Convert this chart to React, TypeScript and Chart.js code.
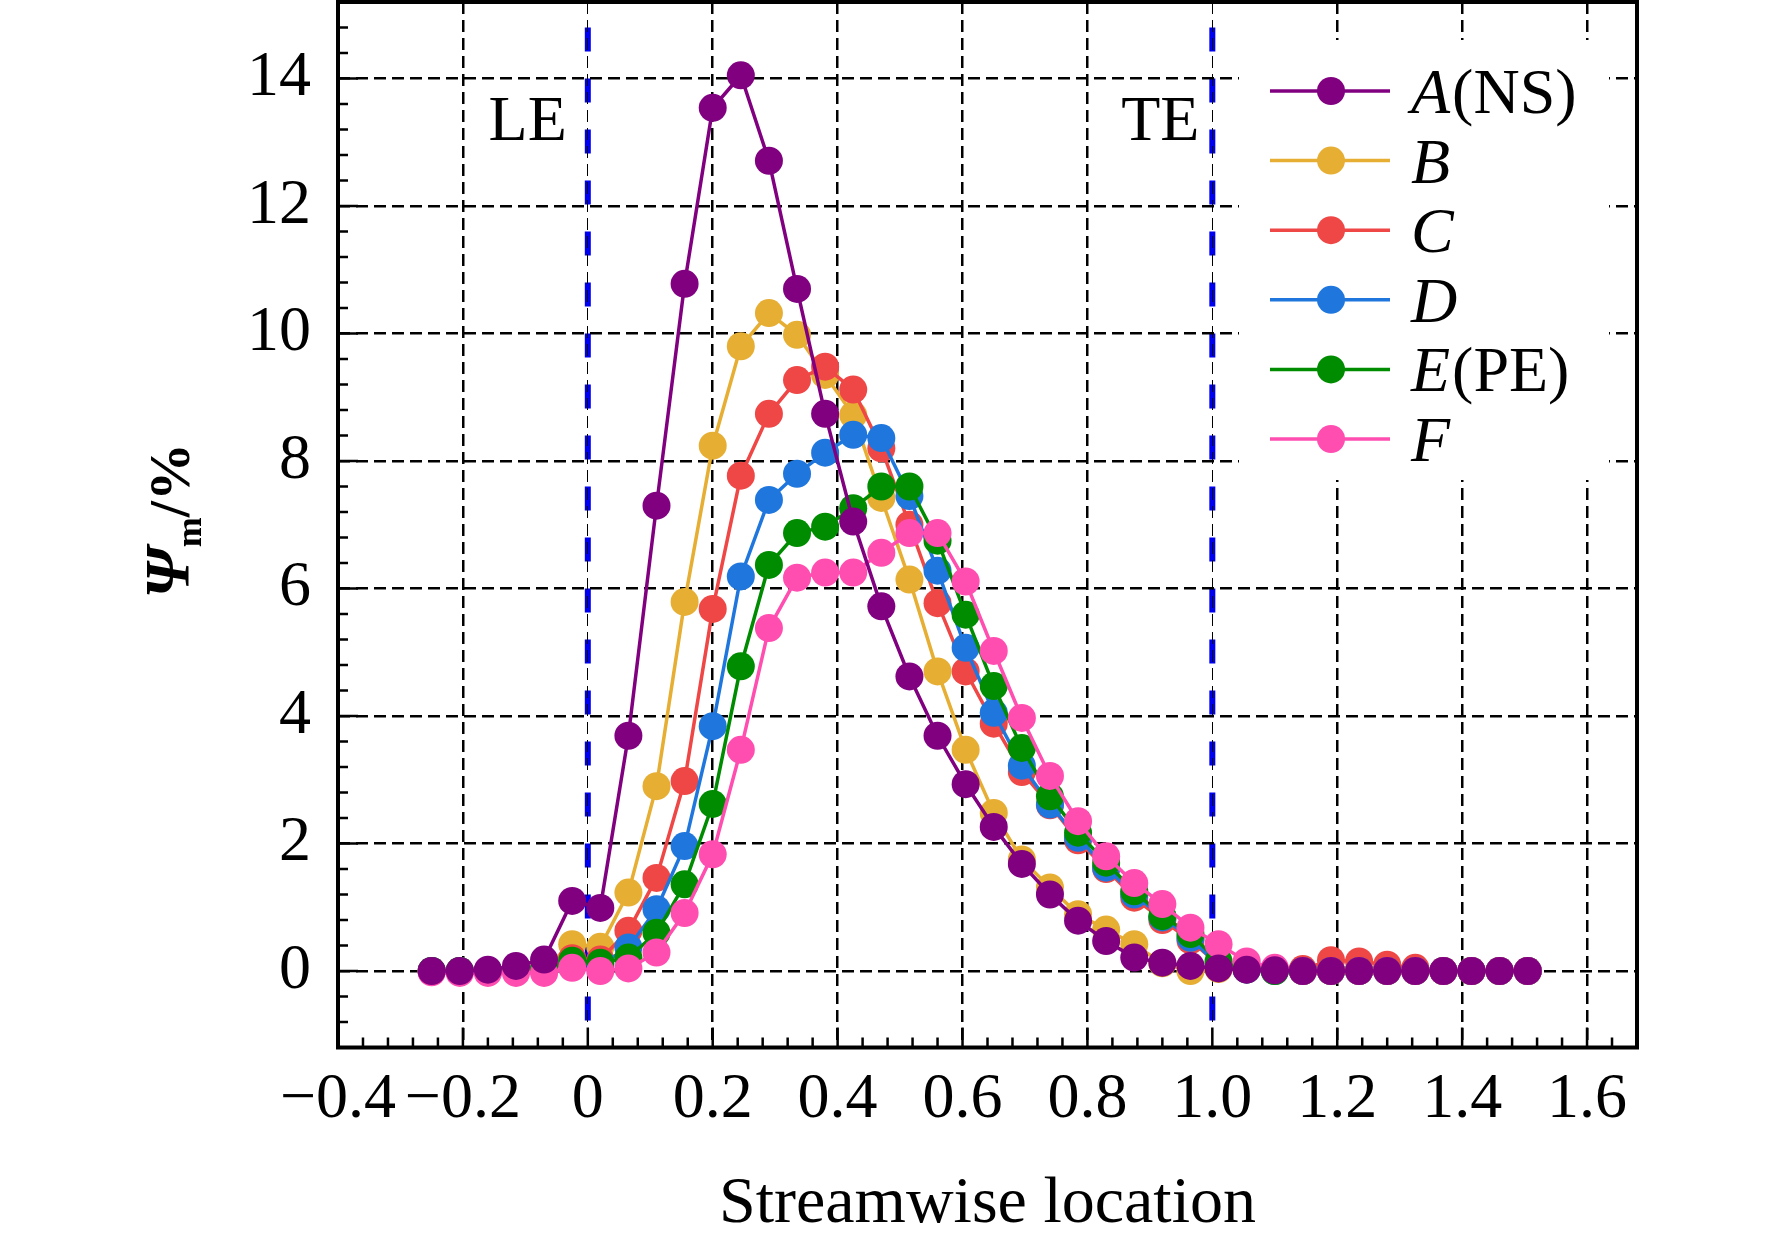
import { useEffect, useRef } from "react";
import { Chart, registerables } from "chart.js";
import type { Plugin } from "chart.js";

Chart.register(...registerables);

// streamwise stations shared by all cases
const streamwise = [
  -0.25, -0.205, -0.16, -0.115, -0.07, -0.025, 0.02, 0.065, 0.11, 0.155,
  0.2, 0.245, 0.29, 0.335, 0.38, 0.425, 0.47, 0.515, 0.56, 0.605,
  0.65, 0.695, 0.74, 0.785, 0.83, 0.875, 0.92, 0.965, 1.01, 1.055,
  1.1, 1.145, 1.19, 1.235, 1.28, 1.325, 1.37, 1.415, 1.46, 1.505,
];

const caseA = [
  0, 0, 0.02, 0.08, 0.18, 1.1, 0.99, 3.69, 7.3, 10.78,
  13.54, 14.05, 12.71, 10.7, 8.74, 7.05, 5.72, 4.62, 3.69, 2.93,
  2.26, 1.68, 1.2, 0.79, 0.47, 0.21, 0.13, 0.08, 0.04, 0.02,
  0.01, 0, 0, 0, 0, 0, 0, 0, 0, 0,
];
const caseB = [
  0, 0, 0, 0.02, 0.05, 0.42, 0.38, 1.23, 2.9, 5.79,
  8.24, 9.8, 10.32, 9.98, 9.35, 8.72, 7.42, 6.14, 4.7, 3.47,
  2.48, 1.75, 1.31, 0.89, 0.65, 0.42, 0.12, 0, 0.03, 0.02,
  0, 0, 0, 0, 0, 0, 0, 0, 0, 0,
];
const caseC = [
  0, 0, 0, 0.02, 0.05, 0.2, 0.18, 0.63, 1.46, 2.98,
  5.68, 7.77, 8.74, 9.27, 9.48, 9.12, 8.2, 7.0, 5.77, 4.7,
  3.88, 3.12, 2.6, 2.05, 1.6, 1.15, 0.8, 0.48, 0.1, 0.04,
  0.02, 0.03, 0.17, 0.15, 0.1, 0.05, 0, 0, 0, 0,
];
const caseD = [
  0, 0, 0, 0.02, 0.03, 0.12, 0.1, 0.37, 0.97, 1.96,
  3.84, 6.19, 7.39, 7.8, 8.13, 8.41, 8.36, 7.45, 6.28, 5.07,
  4.05, 3.22, 2.61, 2.09, 1.62, 1.2, 0.84, 0.52, 0.08, 0.02,
  0, 0, 0, 0, 0, 0, 0, 0, 0, 0,
];
const caseE = [
  0, 0, 0, 0.02, 0.03, 0.16, 0.13, 0.21, 0.6, 1.36,
  2.62, 4.78, 6.37, 6.87, 6.97, 7.26, 7.6, 7.6, 6.75, 5.59,
  4.47, 3.5, 2.74, 2.17, 1.7, 1.25, 0.86, 0.58, 0.15, 0.03,
  0, 0, 0, 0, 0, 0, 0, 0, 0, 0,
];
const caseF = [
  -0.02, -0.03, -0.03, -0.03, -0.03, 0.05, 0, 0.04, 0.29, 0.91,
  1.83, 3.47, 5.38, 6.17, 6.25, 6.25, 6.56, 6.87, 6.87, 6.11,
  5.02, 3.97, 3.06, 2.35, 1.8, 1.38, 1.05, 0.68, 0.42, 0.15,
  0.05, 0, 0, 0, 0, 0, 0, 0, 0, 0,
];

const caseValues = [caseA, caseB, caseC, caseD, caseE, caseF];
const caseLetters = ["A", "B", "C", "D", "E", "F"];
const caseSuffixes = ["(NS)", "", "", "", "(PE)", ""];
const caseColors = ["#800080", "#E6AE33", "#EF4646", "#1F77DE", "#008C00", "#FF4DB0"];
// lower order is painted on top
const caseOrder = [0, 5, 4, 3, 2, 1];

const xTickValues = [-0.4, -0.2, 0, 0.2, 0.4, 0.6, 0.8, 1.0, 1.2, 1.4, 1.6];
const xTickLabels = ["−0.4", "−0.2", "0", "0.2", "0.4", "0.6", "0.8", "1.0", "1.2", "1.4", "1.6"];
const yTickValues = [0, 2, 4, 6, 8, 10, 12, 14];

const edgeStations = [0, 1.0];
const edgeNames = ["LE", "TE"];

const SERIF = "'Liberation Serif', 'Times New Roman', serif";

const decorPlugin: Plugin<"line"> = {
  id: "decor",
  beforeDraw(chart) {
    // blue LE / TE markers sit under the grid
    const { ctx, chartArea, scales } = chart;
    ctx.save();
    ctx.strokeStyle = "#0000F0";
    ctx.lineWidth = 6;
    ctx.setLineDash([24, 27]);
    edgeStations.forEach((v) => {
      const px = scales.x.getPixelForValue(v);
      ctx.beginPath();
      ctx.moveTo(px, scales.y.getPixelForValue(14.8));
      ctx.lineTo(px, chartArea.bottom);
      ctx.stroke();
    });
    ctx.restore();
  },
  afterDraw(chart) {
    const { ctx, chartArea: a, scales } = chart;
    const xs = scales.x;
    const ys = scales.y;
    ctx.save();
    ctx.setLineDash([]);
    ctx.strokeStyle = "#000";

    // inward minor / major ticks
    ctx.lineWidth = 2.5;
    ctx.beginPath();
    for (let k = 0; k <= 52; k++) {
      const px = xs.getPixelForValue(-0.4 + 0.04 * k);
      ctx.moveTo(px, a.bottom);
      ctx.lineTo(px, a.bottom - (k % 5 === 0 ? 20 : 10));
    }
    for (let k = 0; k <= 41; k++) {
      const py = ys.getPixelForValue(-1.2 + 0.4 * k);
      ctx.moveTo(a.left, py);
      ctx.lineTo(a.left + ((k - 3) % 5 === 0 ? 20 : 10), py);
    }
    ctx.stroke();

    // frame
    ctx.lineWidth = 4;
    ctx.strokeRect(a.left, a.top, a.right - a.left, a.bottom - a.top);

    // LE / TE labels
    ctx.fillStyle = "#000";
    ctx.font = `64px ${SERIF}`;
    ctx.textAlign = "right";
    ctx.textBaseline = "alphabetic";
    const edgeGap = [21, 13];
    edgeStations.forEach((v, i) => {
      ctx.fillText(edgeNames[i], xs.getPixelForValue(v) - edgeGap[i], 140);
    });

    // legend
    ctx.fillStyle = "#fff";
    ctx.fillRect(1239, 40, 370, 440);
    caseLetters.forEach((letter, i) => {
      const cy = 91 + 69.6 * i;
      ctx.strokeStyle = caseColors[i];
      ctx.lineWidth = 3.5;
      ctx.beginPath();
      ctx.moveTo(1270, cy);
      ctx.lineTo(1390, cy);
      ctx.stroke();
      ctx.fillStyle = caseColors[i];
      ctx.beginPath();
      ctx.arc(1331, cy, 14, 0, Math.PI * 2);
      ctx.fill();
      ctx.fillStyle = "#000";
      ctx.textAlign = "left";
      ctx.font = `italic 64px ${SERIF}`;
      ctx.fillText(letter, 1411, cy + 22);
      const w = ctx.measureText(letter).width;
      ctx.font = `64px ${SERIF}`;
      ctx.fillText(caseSuffixes[i], 1411 + w + 2, cy + 22);
    });

    // x title
    ctx.textAlign = "center";
    ctx.font = `66px ${SERIF}`;
    ctx.fillText("Streamwise location", (a.left + a.right) / 2, 1222);

    // y title: Ψ_m/%
    ctx.translate(189, (a.top + a.bottom) / 2 - 4);
    ctx.rotate(-Math.PI / 2);
    ctx.textAlign = "left";
    const psiFont = `italic bold 64px ${SERIF}`;
    const subFont = `bold 36px ${SERIF}`;
    const restFont = `bold 58px ${SERIF}`;
    ctx.font = psiFont;
    const wPsi = ctx.measureText("Ψ").width;
    ctx.font = subFont;
    const wSub = ctx.measureText("m").width;
    ctx.font = restFont;
    const wRest = ctx.measureText("/%").width;
    let tx = -(wPsi + wSub + wRest) / 2;
    ctx.font = psiFont;
    ctx.fillText("Ψ", tx, 0);
    tx += wPsi;
    ctx.font = subFont;
    ctx.fillText("m", tx, 12);
    tx += wSub;
    ctx.font = restFont;
    ctx.fillText("/%", tx, 0);

    ctx.restore();
  },
};

export default function App() {
  const canvasRef = useRef<HTMLCanvasElement | null>(null);

  useEffect(() => {
    const canvas = canvasRef.current;
    if (!canvas) {
      return;
    }

    const chart = new Chart(canvas, {
      type: "line",
      data: {
        datasets: caseValues.map((values, i) => ({
          label: caseLetters[i] + caseSuffixes[i],
          data: streamwise.map((x, j) => ({ x, y: values[j] })),
          borderColor: caseColors[i],
          backgroundColor: caseColors[i],
          pointBackgroundColor: caseColors[i],
          pointBorderColor: caseColors[i],
          borderWidth: 3.5,
          pointRadius: 14,
          pointHoverRadius: 14,
          pointBorderWidth: 0,
          tension: 0,
          order: caseOrder[i],
        })),
      },
      options: {
        animation: false,
        responsive: true,
        maintainAspectRatio: false,
        devicePixelRatio: 1,
        events: [],
        layout: { autoPadding: false, padding: { top: 2, right: 135, left: 0, bottom: 0 } },
        plugins: {
          legend: { display: false },
          tooltip: { enabled: false },
          title: { display: false },
        },
        scales: {
          x: {
            type: "linear",
            min: -0.4,
            max: 1.68,
            afterBuildTicks(scale) {
              scale.ticks = xTickValues.map((value) => ({ value }));
            },
            afterFit(scale) {
              scale.height = 195.5;
              scale.paddingLeft = 0;
              scale.paddingRight = 0;
            },
            ticks: {
              autoSkip: false,
              maxRotation: 0,
              padding: 14,
              color: "#000",
              font: { family: SERIF, size: 64 },
              callback(value) {
                const idx = xTickValues.findIndex((t) => Math.abs(t - Number(value)) < 1e-6);
                return idx >= 0 ? xTickLabels[idx] : "";
              },
            },
            grid: {
              color: "#000",
              drawTicks: false,
              lineWidth(ctx) {
                const v = ctx.tick ? ctx.tick.value : NaN;
                return edgeStations.includes(v) ? 1 : 2.5;
              },
            },
            border: { display: false, dash: [12, 6] },
          },
          y: {
            type: "linear",
            min: -1.2,
            max: 15.2,
            afterBuildTicks(scale) {
              scale.ticks = yTickValues.map((value) => ({ value }));
            },
            afterFit(scale) {
              scale.width = 338;
              scale.paddingTop = 0;
              scale.paddingBottom = 0;
            },
            ticks: {
              padding: 27,
              color: "#000",
              font: { family: SERIF, size: 64 },
              callback(value) {
                return String(value);
              },
            },
            grid: { color: "#000", drawTicks: false, lineWidth: 2.5 },
            border: { display: false, dash: [12, 6] },
          },
        },
      },
      plugins: [decorPlugin],
    });

    return () => {
      chart.destroy();
    };
  }, []);

  return (
    <div
      style={{
        position: "absolute",
        left: 0,
        top: 0,
        width: 1772,
        height: 1243,
        background: "#fff",
      }}
    >
      <canvas ref={canvasRef} />
    </div>
  );
}
